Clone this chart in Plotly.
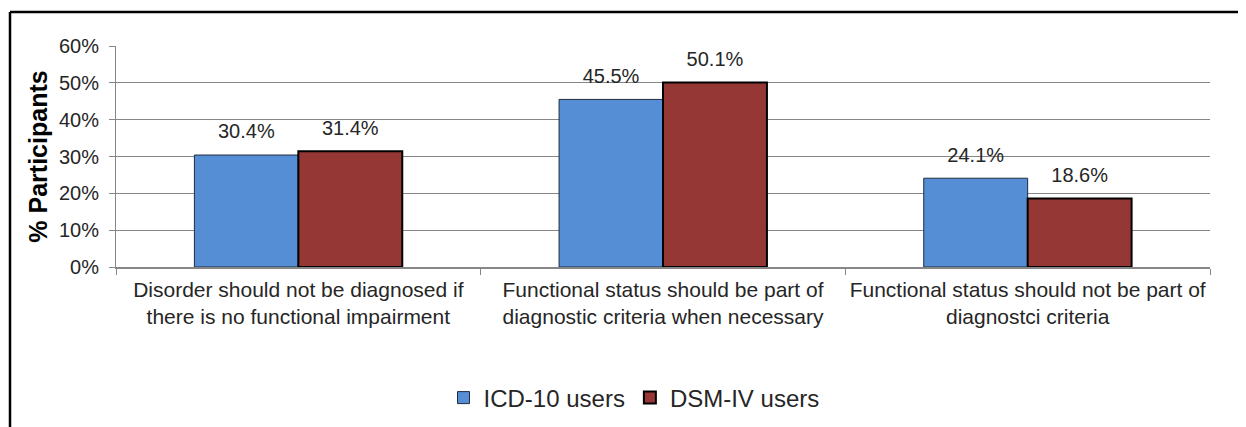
import plotly.graph_objects as go

categories = [
    "Disorder should not be diagnosed if<br>there is no functional impairment",
    "Functional status should be part of<br>diagnostic criteria when necessary",
    "Functional status should not be part of<br>diagnostci criteria",
]
series_names = ["ICD-10 users", "DSM-IV users"]
icd10_values = [0.304, 0.455, 0.241]
dsm4_values = [0.314, 0.501, 0.186]
y_ticks = [0, 0.1, 0.2, 0.3, 0.4, 0.5, 0.6]

# page body has an 8px margin: figure occupies screen x 8..1246, y 8..427
OFF = 8
W, H = 1246 - OFF, 427 - OFF
ML, MR, MT, MB = 116 - OFF, 36, 46 - OFF, 160
FONT = "Liberation Sans, Arial, sans-serif"
TXT = "#262626"
GRID = "#868686"

fig = go.Figure()
styles = [
    dict(color="#558ED5", line=dict(color="#1F2D3D", width=1)),
    dict(color="#953735", line=dict(color="#000000", width=2)),
]
for name, vals, st, g in zip(series_names, [icd10_values, dsm4_values], styles, ["a", "b"]):
    fig.add_trace(go.Bar(
        x=categories, y=vals, name=name, marker=st, offsetgroup=g,
    ))
for name, vals, g in zip(series_names, [icd10_values, dsm4_values], ["a", "b"]):
    fig.add_trace(go.Scatter(
        x=categories, y=vals, mode="markers+text", offsetgroup=g,
        text=[f"{v*100:.1f}%" for v in vals], textposition="top center",
        textfont=dict(family=FONT, size=20, color=TXT),
        marker=dict(size=17, opacity=0, color="white"),
        showlegend=False, hoverinfo="skip", cliponaxis=False,
    ))

pw = W - ML - MR
ph = H - MT - MB
def px_x(p):
    return (p - OFF - ML) / pw
def px_y(p):
    return (H - MB - (p - OFF)) / ph

fig.update_layout(
    width=W, height=H,
    margin=dict(l=ML, r=MR, t=MT, b=MB, autoexpand=False),
    paper_bgcolor="white", plot_bgcolor="white",
    barmode="group", scattermode="group", bargap=0.43, bargroupgap=0,
    font=dict(family=FONT, color=TXT, size=20),
    showlegend=True,
    legend=dict(orientation="h", x=px_x(634), xanchor="center", y=px_y(398), yanchor="middle",
                font=dict(family=FONT, size=24, color=TXT), itemwidth=30,
                traceorder="normal"),
    xaxis=dict(
        type="category", showline=True, linecolor=GRID, linewidth=1.5,
        ticks="outside", ticklen=6, tickcolor=GRID, tickson="boundaries",
        tickangle=0, ticklabelstandoff=3,
        tickfont=dict(family=FONT, size=21, color=TXT), showgrid=False,
    ),
    yaxis=dict(
        range=[0, 0.6], tickvals=y_ticks, tickformat=".0%",
        showline=True, linecolor=GRID, linewidth=1,
        ticks="outside", ticklen=6, tickcolor=GRID, ticklabelstandoff=6,
        showgrid=True, gridcolor=GRID, gridwidth=1, zeroline=False,
        tickfont=dict(family=FONT, size=20, color=TXT),
        title=dict(text="<b>% Participants</b>", font=dict(family=FONT, size=25, color="#000"), standoff=4),
    ),
    shapes=[
        dict(type="line", xref="paper", yref="paper", x0=px_x(10), x1=px_x(1260),
             y0=px_y(12), y1=px_y(12), line=dict(color="black", width=2.5)),
        dict(type="line", xref="paper", yref="paper", x0=px_x(10), x1=px_x(10),
             y0=px_y(12), y1=px_y(440), line=dict(color="black", width=2.5)),
    ],
)

fig.write_html("out.html")
